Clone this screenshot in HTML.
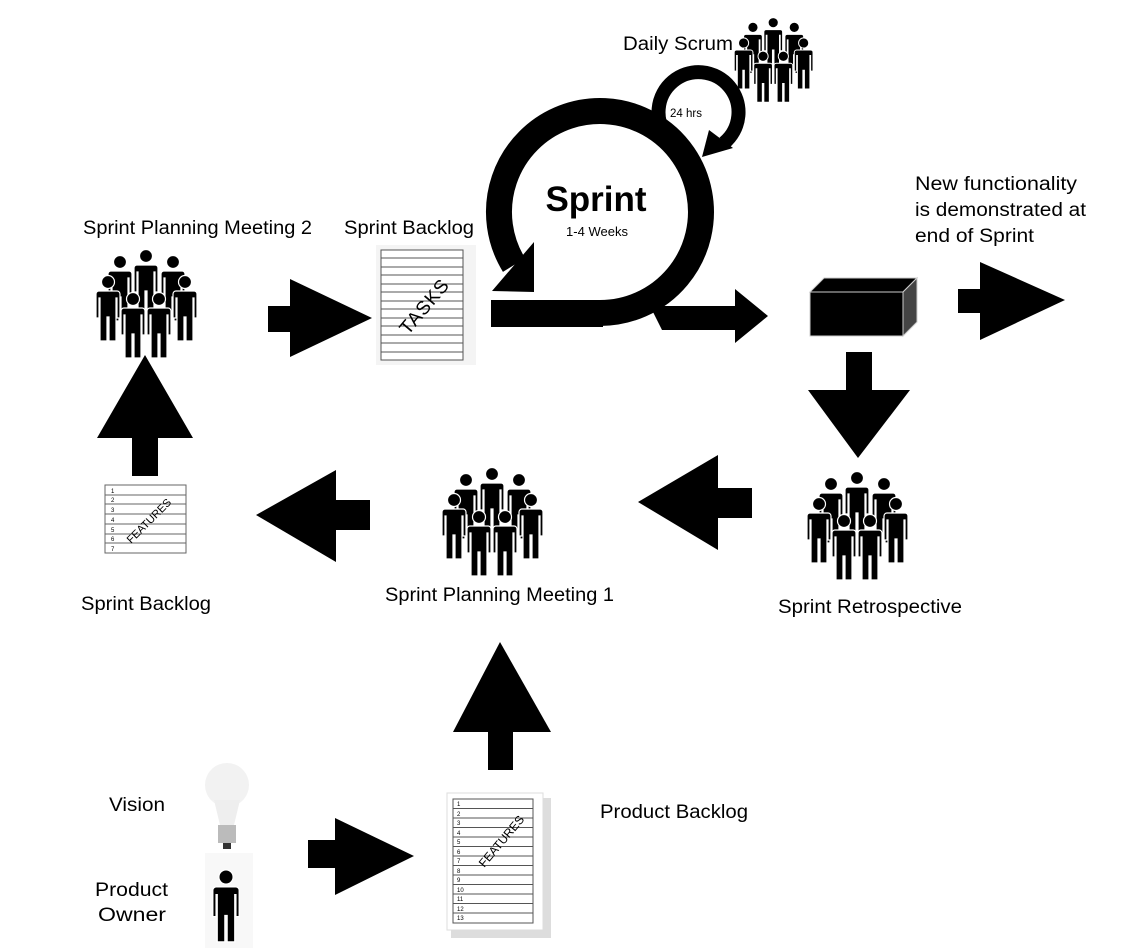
<!DOCTYPE html>
<html><head><meta charset="utf-8"><style>
html,body{margin:0;padding:0;background:#fff;width:1131px;height:950px;overflow:hidden}
svg text{font-family:"Liberation Sans",sans-serif;fill:#000}
</style></head><body>
<svg width="1131" height="950" viewBox="0 0 1131 950" xmlns="http://www.w3.org/2000/svg">
<defs>
<g id="p">
<circle cx="0" cy="0" r="6.5" fill="#000" stroke="#fff" stroke-width="1.2"/>
<path d="M-9,9 h18 a3,3 0 0 1 3,3 v24 h-3 v-20 h-1 v43 h-7 v-24 h-2 v24 h-7 v-43 h-1 v20 h-3 v-24 a3,3 0 0 1 3,-3z" fill="#000" stroke="#fff" stroke-width="1.2"/>
</g>
<g id="grp">
<use href="#p" x="23" y="12"/><use href="#p" x="49" y="6"/><use href="#p" x="76" y="12"/>
<use href="#p" x="11" y="32"/><use href="#p" x="88" y="32"/>
<use href="#p" x="36" y="49"/><use href="#p" x="62" y="49"/>
</g>
</defs>

<use href="#grp" x="97" y="250"/>
<use href="#grp" x="443" y="468"/>
<use href="#grp" x="808" y="472"/>
<use href="#grp" transform="translate(735,18) scale(0.78)"/>

<g fill="#000">
<rect x="268" y="306" width="24" height="26"/><polygon points="290,279 290,357 372,318"/>
<polygon points="650,306 735,306 735,289 768,316 735,343 735,330 662,330"/>
<rect x="958" y="289" width="24" height="24"/><polygon points="980,262 980,340 1065,300"/>
<rect x="846" y="352" width="26" height="40"/><polygon points="808,390 910,390 858,458"/>
<polygon points="638,502 718,455 718,550"/><rect x="716" y="488" width="36" height="30"/>
<polygon points="256,515 336,470 336,562"/><rect x="334" y="500" width="36" height="30"/>
<polygon points="97,438 193,438 145,355"/><rect x="132" y="436" width="26" height="40"/>
<polygon points="453,732 551,732 500,642"/><rect x="488" y="730" width="25" height="40"/>
<rect x="308" y="840" width="29" height="28"/><polygon points="335,818 335,895 414,856"/>
</g>

<rect x="491" y="300" width="112" height="27" fill="#000"/>
<path d="M600,313 A101,101 0 1 0 514,265" fill="none" stroke="#000" stroke-width="26"/>
<polygon points="492,291 534,242 534,292" fill="#000"/>
<path d="M668,138 A40,40 0 1 1 724,143" fill="none" stroke="#000" stroke-width="14"/>
<polygon points="702,157 709,130 733,148" fill="#000"/>
<text x="596" y="211" font-size="35" font-weight="bold" text-anchor="middle">Sprint</text>
<text x="597" y="236" font-size="13" text-anchor="middle">1-4 Weeks</text>
<text x="686" y="117" font-size="11.5" text-anchor="middle">24 hrs</text>

<polygon points="810,292 824,278 917,278 903,292" fill="#000" stroke="#ccc" stroke-width="1"/>
<polygon points="903,292 917,278 917,322 903,336" fill="#444" stroke="#ccc" stroke-width="1"/>
<rect x="810" y="292" width="93" height="44" fill="#000" stroke="#ccc" stroke-width="1"/>

<rect x="376" y="245" width="100" height="120" fill="#f4f4f4"/>
<rect x="381" y="250" width="82" height="110" fill="#fff" stroke="#555"/>
<g stroke="#555" stroke-width="1">
<line x1="381" y1="258" x2="463" y2="258"/><line x1="381" y1="267" x2="463" y2="267"/><line x1="381" y1="275" x2="463" y2="275"/><line x1="381" y1="284" x2="463" y2="284"/><line x1="381" y1="292" x2="463" y2="292"/><line x1="381" y1="301" x2="463" y2="301"/><line x1="381" y1="309" x2="463" y2="309"/><line x1="381" y1="318" x2="463" y2="318"/><line x1="381" y1="326" x2="463" y2="326"/><line x1="381" y1="335" x2="463" y2="335"/><line x1="381" y1="343" x2="463" y2="343"/><line x1="381" y1="352" x2="463" y2="352"/>
</g>
<text x="424" y="313" font-size="19" text-anchor="middle" transform="rotate(-50 424 306)" letter-spacing="1">TASKS</text>

<rect x="105" y="485" width="81" height="68" fill="#fff" stroke="#666"/>
<g stroke="#666"><line x1="105" y1="495" x2="186" y2="495"/><line x1="105" y1="504" x2="186" y2="504"/><line x1="105" y1="514" x2="186" y2="514"/><line x1="105" y1="524" x2="186" y2="524"/><line x1="105" y1="534" x2="186" y2="534"/><line x1="105" y1="543" x2="186" y2="543"/></g>
<g font-size="6"><text x="111" y="493">1</text><text x="111" y="502">2</text><text x="111" y="512">3</text><text x="111" y="522">4</text><text x="111" y="532">5</text><text x="111" y="541">6</text><text x="111" y="551">7</text></g>
<text x="148" y="525" font-size="11" text-anchor="middle" transform="rotate(-45 148 520)">FEATURES</text>

<rect x="451" y="798" width="100" height="140" fill="#bbb" opacity="0.5"/>
<rect x="447" y="793" width="96" height="137" fill="#fff" stroke="#ddd"/>
<rect x="453" y="799" width="80" height="124" fill="#fff" stroke="#555"/>
<g stroke="#555">
<line x1="453" y1="808.5" x2="533" y2="808.5"/><line x1="453" y1="818" x2="533" y2="818"/><line x1="453" y1="827.5" x2="533" y2="827.5"/><line x1="453" y1="837" x2="533" y2="837"/><line x1="453" y1="846.5" x2="533" y2="846.5"/><line x1="453" y1="856" x2="533" y2="856"/><line x1="453" y1="865.5" x2="533" y2="865.5"/><line x1="453" y1="875" x2="533" y2="875"/><line x1="453" y1="884.5" x2="533" y2="884.5"/><line x1="453" y1="894" x2="533" y2="894"/><line x1="453" y1="903.5" x2="533" y2="903.5"/><line x1="453" y1="913" x2="533" y2="913"/>
</g>
<g font-size="6"><text x="457" y="806">1</text><text x="457" y="816">2</text><text x="457" y="825">3</text><text x="457" y="835">4</text><text x="457" y="844">5</text><text x="457" y="854">6</text><text x="457" y="863">7</text><text x="457" y="873">8</text><text x="457" y="882">9</text><text x="457" y="892">10</text><text x="457" y="901">11</text><text x="457" y="911">12</text><text x="457" y="920">13</text></g>
<text x="500" y="846" font-size="12" text-anchor="middle" transform="rotate(-50 500 840)">FEATURES</text>

<circle cx="227" cy="785" r="22" fill="#f2f2f2"/>
<path d="M214,800 L220,825 h14 L240,800z" fill="#eee"/>
<rect x="218" y="825" width="18" height="18" fill="#bbb"/>
<rect x="223" y="843" width="8" height="6" fill="#333"/>
<rect x="205" y="853" width="48" height="95" fill="#f8f8f8"/>
<use href="#p" transform="translate(226,877) scale(1.1)"/>

<g font-size="19">
<text x="623" y="50" textLength="110" lengthAdjust="spacingAndGlyphs">Daily Scrum</text>
<text x="83" y="234" textLength="229" lengthAdjust="spacingAndGlyphs">Sprint Planning Meeting 2</text>
<text x="344" y="234" textLength="130" lengthAdjust="spacingAndGlyphs">Sprint Backlog</text>
<text x="915" y="190" textLength="162" lengthAdjust="spacingAndGlyphs">New functionality</text>
<text x="915" y="216" textLength="171" lengthAdjust="spacingAndGlyphs">is demonstrated at</text>
<text x="915" y="242" textLength="119" lengthAdjust="spacingAndGlyphs">end of Sprint</text>
<text x="81" y="610" textLength="130" lengthAdjust="spacingAndGlyphs">Sprint Backlog</text>
<text x="385" y="601" textLength="229" lengthAdjust="spacingAndGlyphs">Sprint Planning Meeting 1</text>
<text x="778" y="613" textLength="184" lengthAdjust="spacingAndGlyphs">Sprint Retrospective</text>
<text x="109" y="811" textLength="56" lengthAdjust="spacingAndGlyphs">Vision</text>
<text x="600" y="818" textLength="148" lengthAdjust="spacingAndGlyphs">Product Backlog</text>
<text x="95" y="896" textLength="73" lengthAdjust="spacingAndGlyphs">Product</text>
<text x="98" y="921" textLength="68" lengthAdjust="spacingAndGlyphs">Owner</text>
</g>
</svg>
</body></html>
